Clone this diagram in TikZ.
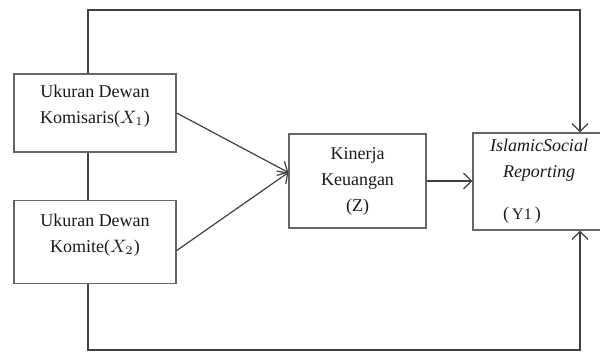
\documentclass[tikz,border=0pt]{standalone}
\usepackage{fontspec}
\setmainfont{Liberation Serif}
\usetikzlibrary{arrows.meta}
\usetikzlibrary{calc}

\tikzset{
  var/.style={draw=black!60, line width=0.6pt, align=center, inner sep=0pt,
    text=black!90, font=\fontsize{9}{13}\selectfont},
  link/.style={draw=black!75, line width=0.6pt},
}

\begin{document}
\begin{tikzpicture}[x=0.5pt, y=-0.5pt, >={Straight Barb[length=4pt, width=8pt]}]
    \useasboundingbox (0,0) rectangle (600,352);
    % variabel
    \node[var, minimum width=81pt, minimum height=39pt] (komisaris) at (95,113)
      {Ukuran Dewan\\Komisaris($X_1$)\\[-4pt]\mbox{}};
    \node[var, minimum width=81pt, minimum height=41.5pt] (komite) at (95,242)
      {Ukuran Dewan\\Komite($X_2$)\\[-4pt]\mbox{}};
    \node[var, minimum width=68.5pt, minimum height=47pt] (kinerja) at (357.5,181)
      {Kinerja\\Keuangan\\(Z)};
    \node[var, minimum width=66pt, minimum height=48.5pt] (isr) at (539,181.5)
      {\textit{IslamicSocial}\\\textit{Reporting}\\[8pt](\,{\footnotesize Y1}\,)\hspace*{17pt}};
    \coordinate (atas) at (300,10);
    \coordinate (bawah) at (300,350);
    % hubungan
    \draw[link, ->] (komisaris.east) -- (kinerja.173);
    \draw[link, ->] (komite.-6) -- (kinerja.173);
    \draw[link, ->] (kinerja.east) -- (kinerja.east -| isr.west);
    \draw[link] ([xshift=-3.5pt]komisaris.south) -- ([xshift=-3.5pt]komite.north);
    \draw[link, ->] ([xshift=-3.5pt]komisaris.north) |- (atas) -| ([xshift=20.5pt]isr.north);
    \draw[link, ->] ([xshift=-3.5pt]komite.south) |- (bawah) -| ([xshift=20.5pt]isr.south);
\end{tikzpicture}
\end{document}
